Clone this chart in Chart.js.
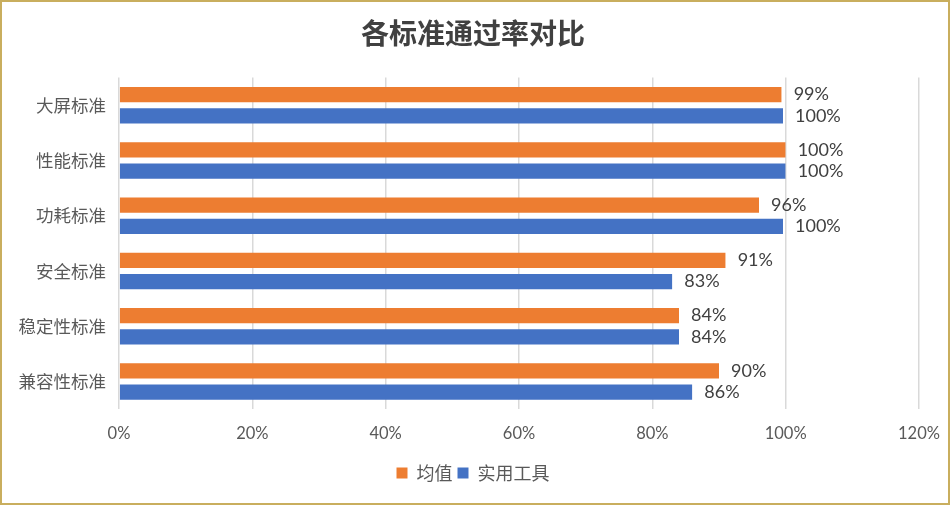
<!DOCTYPE html>
<html>
<head>
<meta charset="utf-8">
<script src="https://cdn.jsdelivr.net/npm/chart.js@4/dist/chart.umd.min.js"></script>
<style>
  html, body { margin: 0; padding: 0; background: #fff; }
  #box {
    width: 950px; height: 505px; box-sizing: border-box;
    border: 2px solid #C9AE5E; position: relative; background: #fff;
  }
</style>
</head>
<body>
<div id="box"><canvas id="chart"></canvas></div>
<script>
const categories = ['大屏标准', '性能标准', '功耗标准', '安全标准', '稳定性标准', '兼容性标准'];
const avgValues = [99.4, 100, 96, 91, 84, 90];
const toolValues = [99.6, 100, 99.6, 83, 84, 86];
const tickLabels = ['0%', '20%', '40%', '60%', '80%', '100%', '120%'];

const cjk = '"Noto Sans CJK SC", sans-serif';
const latin = 'Lato, "Noto Sans CJK SC", sans-serif';

// draws the value next to each bar end
const barLabels = {
    id: 'barLabels',
    afterDatasetsDraw(chart) {
        const ctx = chart.ctx;
        ctx.save();
        ctx.font = '18px ' + latin;
        ctx.fillStyle = '#404040';
        ctx.textAlign = 'left';
        ctx.textBaseline = 'middle';
        chart.data.datasets.forEach((ds, i) => {
            chart.getDatasetMeta(i).data.forEach((bar, j) => {
                ctx.fillText(Math.round(ds.data[j]) + '%', bar.x + 12, bar.y);
            });
        });
        ctx.restore();
    }
};

new Chart(document.getElementById('chart'), {
    type: 'bar',
    data: {
        labels: categories,
        datasets: [
            {
                label: '均值',
                data: avgValues,
                backgroundColor: '#ED7D31',
                borderColor: 'rgba(0,0,0,0)',
                borderWidth: { top: 3, bottom: 3, left: 0, right: 0 },
                borderSkipped: false
            },
            {
                label: '实用工具',
                data: toolValues,
                backgroundColor: '#4472C4',
                borderColor: 'rgba(0,0,0,0)',
                borderWidth: { top: 3, bottom: 3, left: 0, right: 0 },
                borderSkipped: false
            }
        ]
    },
    options: {
        indexAxis: 'y',
        responsive: true,
        maintainAspectRatio: false,
        animation: false,
        categoryPercentage: 0.77,
        barPercentage: 1.0,
        layout: { padding: { left: 0, right: 4, top: 10, bottom: 11 } },
        scales: {
            x: {
                min: 0,
                max: 120,
                ticks: {
                    stepSize: 20,
                    padding: 15,
                    color: '#595959',
                    font: { size: 16.5, family: latin },
                    callback: (v, i) => tickLabels[i]
                },
                grid: { color: '#d9d9d9', lineWidth: 1.5, drawTicks: false },
                border: { display: false },
                afterFit(scale) { scale.paddingLeft = 0; scale.paddingRight = 29; }
            },
            y: {
                ticks: {
                    padding: 13,
                    color: '#595959',
                    font: { size: 17.5, family: cjk }
                },
                grid: { display: false, drawTicks: false },
                border: { display: false },
                afterFit(scale) { scale.width = 117; }
            }
        },
        plugins: {
            title: {
                display: true,
                text: '各标准通过率对比',
                color: '#404040',
                font: { size: 28, weight: 'bold', family: cjk },
                padding: { top: 5, bottom: 27 }
            },
            legend: {
                position: 'bottom',
                labels: {
                    boxWidth: 11,
                    boxHeight: 11,
                    padding: 5,
                    color: '#595959',
                    font: { size: 18, family: cjk }
                }
            },
            tooltip: { enabled: false }
        }
    },
    plugins: [barLabels]
});
</script>
</body>
</html>
